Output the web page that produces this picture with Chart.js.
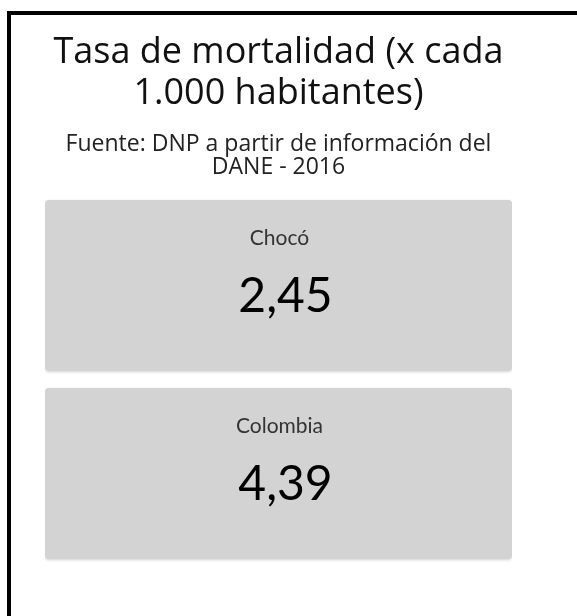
<!DOCTYPE html>
<html>
<head>
<meta charset="utf-8">
<script src="https://cdn.jsdelivr.net/npm/chart.js@4/dist/chart.umd.min.js"></script>
<style>
  html, body { margin: 0; padding: 0; background: #fff; }
  #wrap { position: relative; width: 577px; height: 616px; overflow: hidden; }
  #frame {
    position: absolute; left: 7px; top: 11px; width: 600px; height: 640px;
    border-top: 4px solid #000; border-left: 4px solid #000; pointer-events: none;
  }
</style>
</head>
<body>
<div id="wrap">
  <canvas id="tasaMortalidad"></canvas>
  <div id="frame"></div>
</div>
<script>
// Datos del indicador
const categorias = ['Chocó', 'Colombia'];
const valores = [2.45, 4.39];
const titulo = ['Tasa de mortalidad (x cada', '1.000 habitantes)'];
const fuente = ['Fuente: DNP a partir de información del', 'DANE - 2016'];

const fmt = v => v.toFixed(2).replace('.', ',');

// dibuja el nombre y el valor dentro de cada tarjeta
const kpiText = {
    id: 'kpiText',
    beforeDatasetsDraw(chart) {
        const ctx = chart.ctx;
        ctx.save();
        ctx.shadowColor = 'rgba(0,0,0,0.18)';
        ctx.shadowBlur = 3;
        ctx.shadowOffsetY = 1;
    },
    afterDatasetsDraw(chart) {
        const ctx = chart.ctx;
        ctx.restore();
        ctx.save();
        const meta = chart.getDatasetMeta(0);
        meta.data.forEach((bar, i) => {
            const cx = (bar.x + bar.base) / 2;
            const top = bar.y - bar.height / 2;
            ctx.textAlign = 'center';
            ctx.textBaseline = 'alphabetic';
            ctx.fillStyle = '#333';
            ctx.font = "21px 'Lato', sans-serif";
            ctx.fillText(categorias[i], cx + 1, top + 45);
            ctx.fillStyle = '#000';
            ctx.font = "48px 'Lato', sans-serif";
            ctx.fillText(fmt(valores[i]), cx + 7, top + 112);
        });
        ctx.restore();
    }
};

const ctx = document.getElementById('tasaMortalidad').getContext('2d');
const myChart = new Chart(ctx, {
    type: 'bar',
    data: {
        labels: categorias,
        datasets: [{
            data: categorias.map(() => [0, 1]), // tarjeta a todo el ancho
            backgroundColor: '#d3d3d3',
            borderRadius: 4,
            borderSkipped: false,
            barPercentage: 0.91,
            categoryPercentage: 1
        }]
    },
    options: {
        indexAxis: 'y',
        responsive: true,
        maintainAspectRatio: false,
        animation: false,
        events: [],
        layout: {
            padding: { left: 45, right: 65, top: 0, bottom: 48.5 }
        },
        plugins: {
            legend: { display: false },
            tooltip: { enabled: false },
            title: {
                display: true,
                text: titulo,
                color: '#111',
                font: { family: "'Open Sans', sans-serif", size: 36, weight: 'normal', lineHeight: 1.14 },
                padding: { top: 32, bottom: 18.5 }
            },
            subtitle: {
                display: true,
                text: fuente,
                color: '#222',
                font: { family: "'Open Sans', sans-serif", size: 23, weight: 'normal', lineHeight: 1.0 },
                padding: { top: 0, bottom: 13 }
            }
        },
        scales: {
            x: { display: false, min: 0, max: 1 },
            y: { display: false }
        }
    },
    plugins: [kpiText]
});
</script>
</body>
</html>
